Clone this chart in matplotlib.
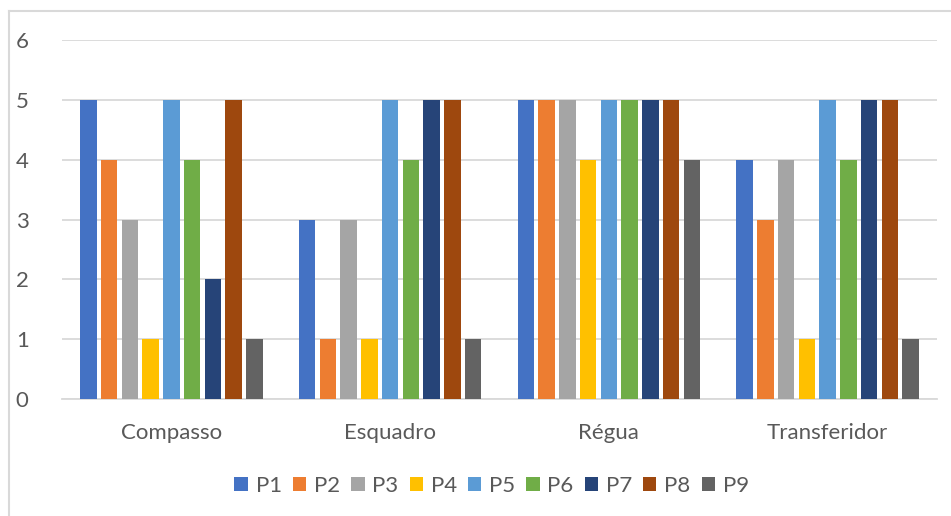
import matplotlib
matplotlib.use("Agg")
import matplotlib.pyplot as plt
from matplotlib.patches import Patch
from matplotlib.lines import Line2D
import numpy as np

plt.rcParams['font.family'] = ['Lato', 'DejaVu Sans']

categories = ["Compasso", "Esquadro", "Régua", "Transferidor"]
series_names = ["P1", "P2", "P3", "P4", "P5", "P6", "P7", "P8", "P9"]
p1 = [5, 3, 5, 4]
p2 = [4, 1, 5, 3]
p3 = [3, 3, 5, 4]
p4 = [1, 1, 4, 1]
p5 = [5, 5, 5, 5]
p6 = [4, 4, 5, 4]
p7 = [2, 5, 5, 5]
p8 = [5, 5, 5, 5]
p9 = [1, 1, 4, 1]
series_values = [p1, p2, p3, p4, p5, p6, p7, p8, p9]
colors = ["#4472C4", "#ED7D31", "#A5A5A5", "#FFC000", "#5B9BD5",
          "#70AD47", "#264478", "#9E480E", "#636363"]
y_ticks = [0, 1, 2, 3, 4, 5, 6]

W, H = 951, 516
fig = plt.figure(figsize=(W / 100, H / 100), dpi=100)
ax = fig.add_axes([62 / W, 1 - 399 / H, (937 - 62) / W, (399 - 40) / H])

x = np.arange(len(categories))
pitch = 0.0949
width = 0.0754
for i, (name, vals, c) in enumerate(zip(series_names, series_values, colors)):
    ax.bar(x + (i - 4) * pitch, vals, width=width, color=c, label=name, zorder=3)

ax.set_xlim(-0.5, len(categories) - 0.5)
ax.set_ylim(0, 6)
ax.set_yticks(y_ticks)
ax.set_xticks(x)
ax.set_xticklabels(categories)
ax.grid(axis='y', color='#D9D9D9', linewidth=1.3, zorder=0)
for s in ['top', 'right', 'left']:
    ax.spines[s].set_visible(False)
ax.spines['bottom'].set_color('#D9D9D9')
ax.spines['bottom'].set_linewidth(1.3)
ax.tick_params(axis='both', length=0, labelsize=16, labelcolor='#595959')
ax.tick_params(axis='x', pad=17)
ax.tick_params(axis='y', pad=24)

handles = [Patch(facecolor=c, edgecolor='none') for c in colors]
fig.legend(handles, series_names, loc='center', bbox_to_anchor=(0.517, 1 - 486 / H),
           ncol=9, frameon=False, fontsize=16, labelcolor='#595959',
           handlelength=0.6, handleheight=0.6, handletextpad=0.35,
           columnspacing=0.5)

# chart frame
fig.add_artist(Line2D([8.5 / W, 8.5 / W], [0, 1 - 10.5 / H], transform=fig.transFigure,
                      color='#D9D9D9', linewidth=1.5))
fig.add_artist(Line2D([8.5 / W, 1], [1 - 10.5 / H, 1 - 10.5 / H], transform=fig.transFigure,
                      color='#D9D9D9', linewidth=1.5))

fig.savefig("out.png", dpi=100)
